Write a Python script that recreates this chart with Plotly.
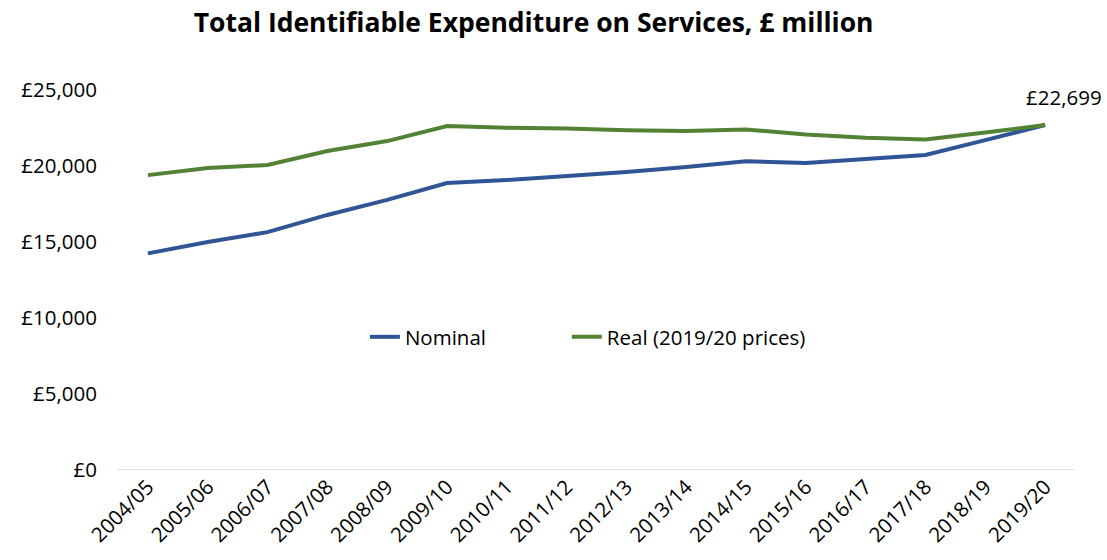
import plotly.graph_objects as go

years = ["2004/05", "2005/06", "2006/07", "2007/08", "2008/09", "2009/10",
         "2010/11", "2011/12", "2012/13", "2013/14", "2014/15", "2015/16",
         "2016/17", "2017/18", "2018/19", "2019/20"]
nominal = [14250, 15000, 15650, 16780, 17770, 18880, 19080, 19340, 19600,
           19930, 20320, 20200, 20460, 20730, 21700, 22699]
real = [19400, 19870, 20070, 20990, 21640, 22630, 22510, 22470, 22350,
        22310, 22400, 22080, 21860, 21750, 22200, 22699]
y_ticks = [0, 5000, 10000, 15000, 20000, 25000]
y_labels = ["£0", "£5,000", "£10,000", "£15,000", "£20,000", "£25,000"]

FONT = "Open Sans"
SIZE = 20.5
BLUE = "#2F5597"
GREEN = "#548235"

fig = go.Figure()
fig.add_trace(go.Scatter(x=years, y=nominal, mode="lines", name="Nominal",
                         line=dict(color=BLUE, width=4), cliponaxis=False,
                         legend="legend"))
fig.add_trace(go.Scatter(x=years, y=real, mode="lines", name="Real (2019/20 prices)",
                         line=dict(color=GREEN, width=4), cliponaxis=False,
                         legend="legend2"))

# label the final value
fig.add_annotation(x=years[-1], y=real[-1], text=f"£{real[-1]:,}",
                   showarrow=False, xanchor="left", yanchor="bottom",
                   xshift=-21, yshift=12,
                   font=dict(family=FONT, size=SIZE, color="#000000"))

legend_style = dict(orientation="h", xanchor="left", y=0.35, yanchor="middle",
                    font=dict(family=FONT, size=SIZE), bgcolor="rgba(0,0,0,0)")

fig.update_layout(
    width=1107, height=560,
    margin=dict(l=118, r=32, t=90, b=90),
    paper_bgcolor="white", plot_bgcolor="white",
    title=dict(text="<b>Total Identifiable Expenditure on Services, £ million</b>",
               x=0.482, xanchor="center", y=0.96, yanchor="middle",
               font=dict(family=FONT, size=26.5, color="#000000")),
    font=dict(family=FONT, size=SIZE, color="#000000"),
    showlegend=True,
    legend=dict(x=0.258, **legend_style),
    legend2=dict(x=0.469, **legend_style),
    xaxis=dict(type="category", range=[-0.5, len(years) - 0.5], tickangle=-45,
               showgrid=False, showline=False, ticks="",
               tickfont=dict(family=FONT, size=SIZE), zeroline=False),
    yaxis=dict(range=[0, 25000], tickvals=y_ticks, ticktext=y_labels,
               showgrid=False, zeroline=False, showline=False, ticks="",
               tickfont=dict(family=FONT, size=SIZE), ticklabelstandoff=20),
)

# baseline at zero
fig.add_shape(type="line", xref="paper", yref="y", x0=0, x1=1, y0=0, y1=0,
              line=dict(color="#D9D9D9", width=1.5), layer="below")

fig.write_html("out.html")
